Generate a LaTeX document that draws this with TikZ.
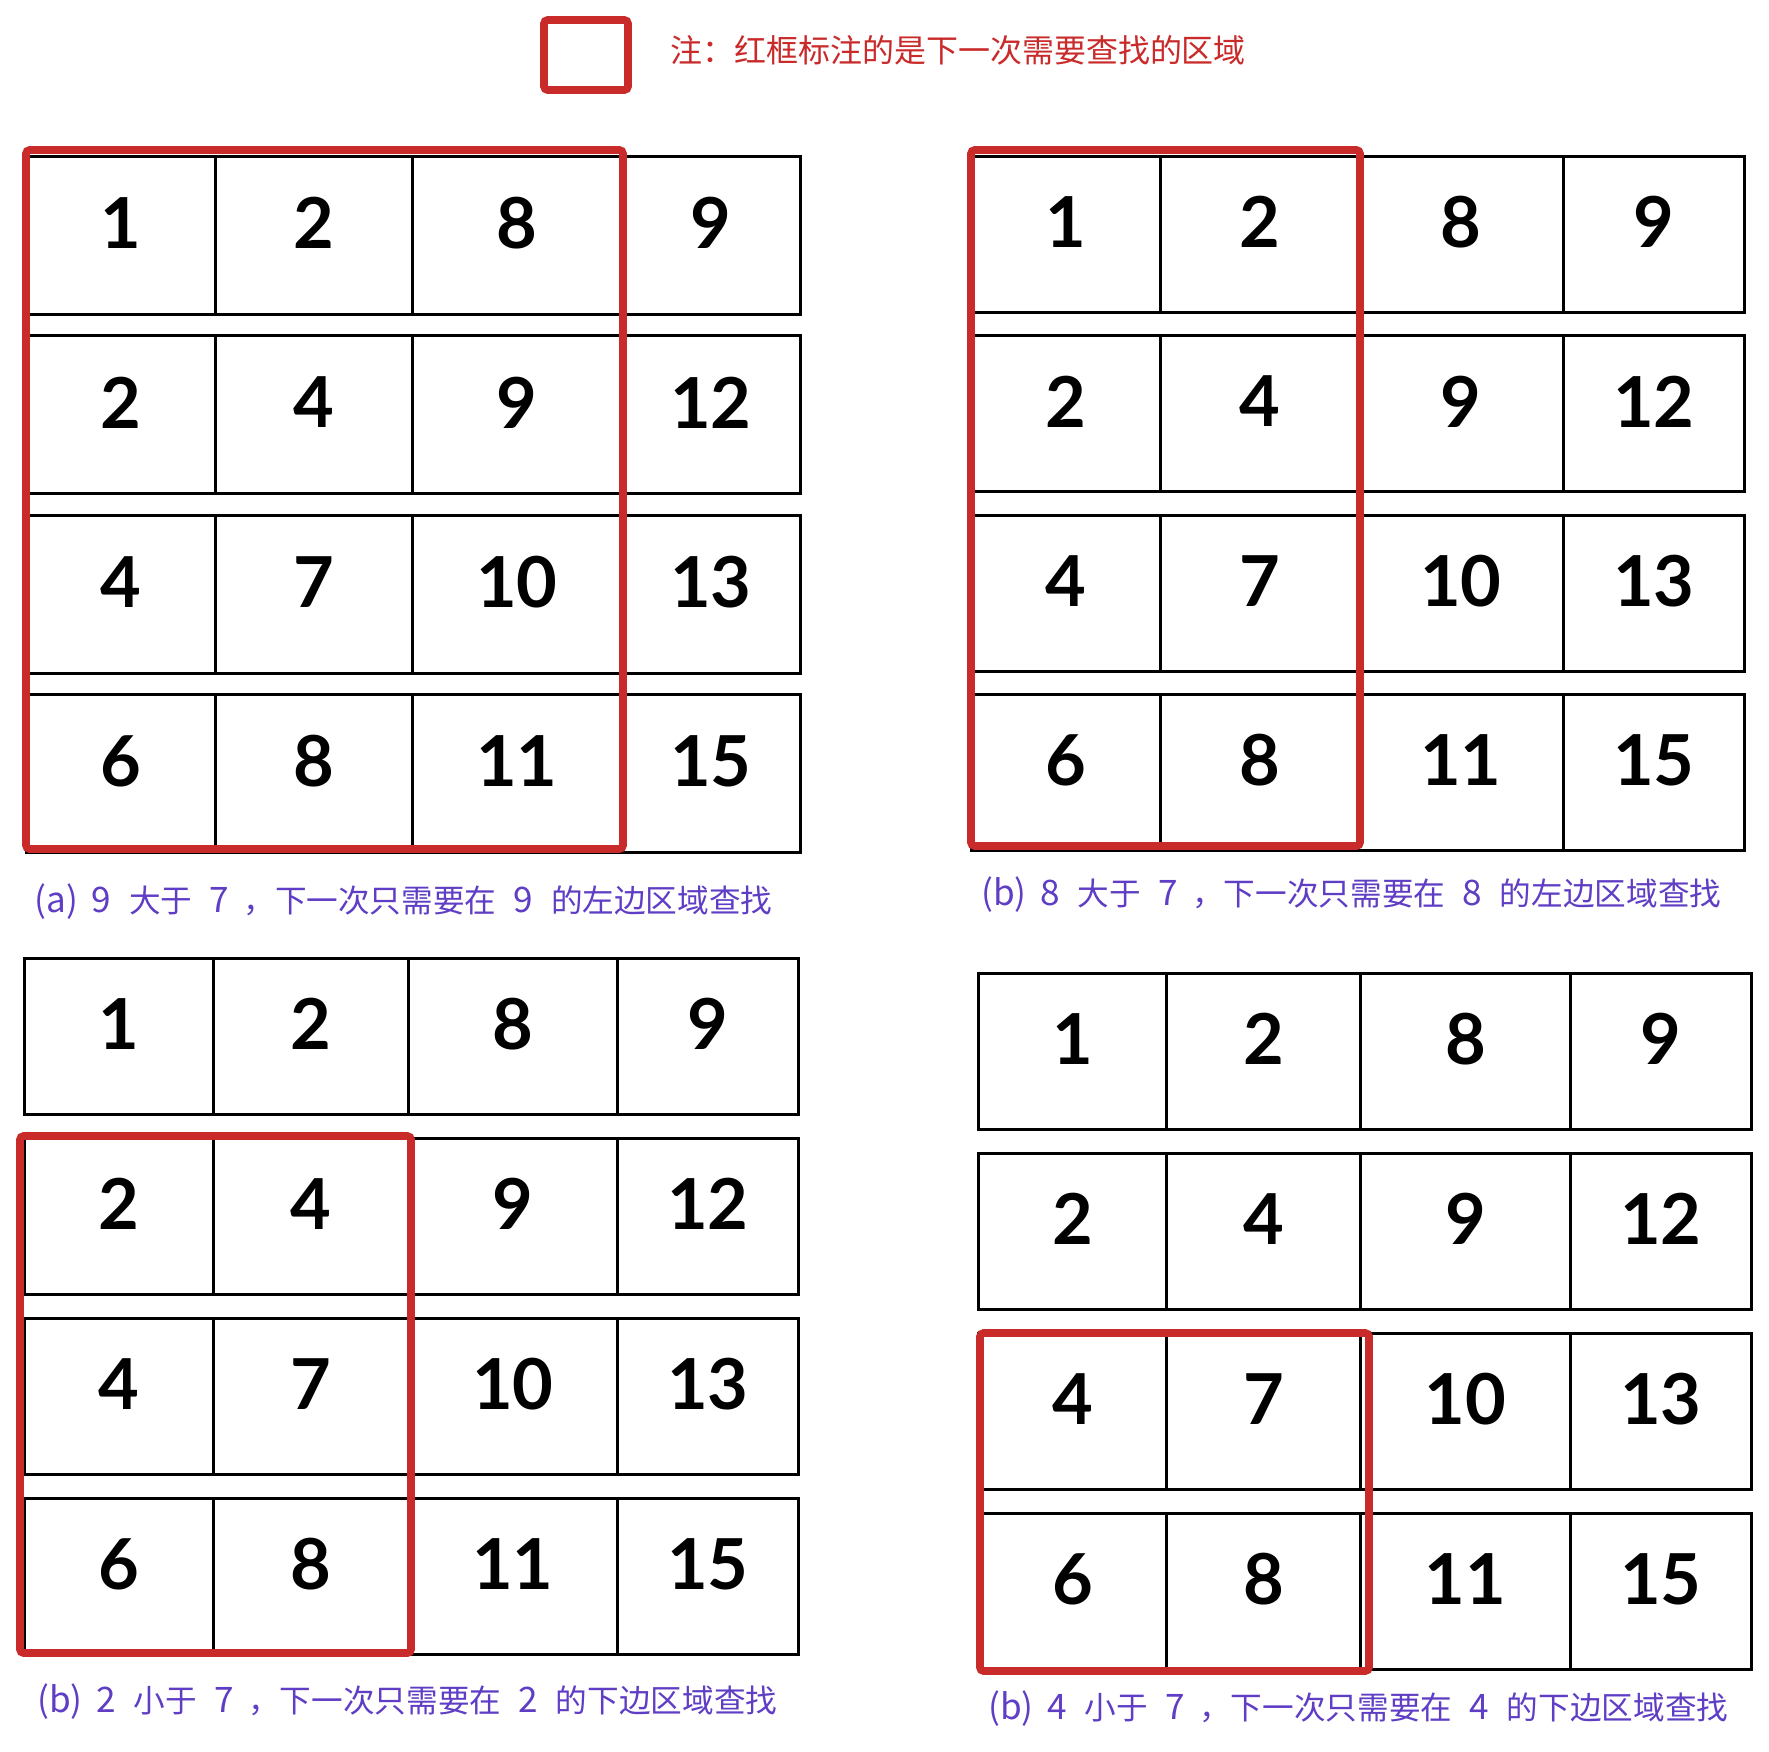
\documentclass[tikz,border=0pt]{standalone}
\usepackage{fontspec}
\newfontfamily\cjk{Noto Sans CJK SC}
\newfontfamily\digitfont{Lato}
\definecolor{markred}{HTML}{C92A2A}
\definecolor{capviolet}{HTML}{5F3DC4}
\tikzset{
  cell/.style={draw=black, line width=1.6pt, anchor=north west, inner sep=0pt, rectangle},
  num/.style={font=\digitfont\bfseries\fontsize{40}{40}\selectfont, inner sep=0pt},
  redbox/.style={draw=markred, line width=4.3pt, rounded corners=2pt},
  caption/.style={font=\cjk\fontsize{18}{18}\selectfont, text=capviolet, anchor=west, inner sep=0pt},
  note/.style={font=\cjk\fontsize{18.2}{18.2}\selectfont, text=markred, anchor=west, inner sep=0pt}
}
% caption text: #1 tag, #2 number, #3 relation, #4 direction
\newcommand\captext[4]{{\fontsize{20}{20}\selectfont #1}\hspace{8pt}{\fontsize{20}{20}\selectfont #2}\hspace{10pt}#3\hspace{10pt}{\fontsize{20}{20}\selectfont 7}\hspace{8pt}，下一次只需要在\hspace{10pt}{\fontsize{20}{20}\selectfont #2}\hspace{10pt}的#4边区域查找}
% #1 name, #2..#6 column x, #7 top y, #8 row height, #9 row pitch
\newcommand\mkpanel[9]{%
  \foreach \r/\va/\vb/\vc/\vd in {1/1/2/8/9,2/2/4/9/12,3/4/7/10/13,4/6/8/11/15}{%
    \pgfmathsetmacro\yt{#7+(\r-1)*#9}%
    \node[cell, minimum width={(#3-#2)*0.02cm}, minimum height={#8*0.02cm}] (#1-\r-1) at (#2,\yt) {};
    \node[cell, minimum width={(#4-#3)*0.02cm}, minimum height={#8*0.02cm}] (#1-\r-2) at (#3,\yt) {};
    \node[cell, minimum width={(#5-#4)*0.02cm}, minimum height={#8*0.02cm}] (#1-\r-3) at (#4,\yt) {};
    \node[cell, minimum width={(#6-#5)*0.02cm}, minimum height={#8*0.02cm}] (#1-\r-4) at (#5,\yt) {};
    \node[num, yshift=7pt] (#1-\r-1-t) at (#1-\r-1.center) {\va};
    \node[num, yshift=7pt] (#1-\r-2-t) at (#1-\r-2.center) {\vb};
    \node[num, yshift=7pt] (#1-\r-3-t) at (#1-\r-3.center) {\vc};
    \node[num, yshift=7pt] (#1-\r-4-t) at (#1-\r-4.center) {\vd};
  }%
}
\begin{document}
\begin{tikzpicture}[x=0.02cm, y=-0.02cm]
\useasboundingbox[fill=white] (0,0) rectangle (1769,1752);

% legend
\draw[redbox] (544,20) rectangle (628,90);
\node[note] (legend) at (670,50) {注：红框标注的是下一次需要查找的区域};

% panels
\mkpanel{a}{25}{214}{411}{620}{799}{155}{158}{179.4}
\mkpanel{b}{970}{1159}{1357}{1562}{1743}{155}{156}{179.4}
\mkpanel{c}{23}{212}{407}{616}{797}{957}{156}{180}
\mkpanel{d}{977}{1165}{1359}{1569}{1750}{972}{156}{180}

% red search regions
\draw[redbox] (26,150) rectangle (623,849);
\draw[redbox] (971,150) rectangle (1360,846);
\draw[redbox] (20,1136) rectangle (411,1653);
\draw[redbox] (980,1333) rectangle (1369,1671);

% captions
\node[caption] (capa) at (34,902) {\captext{(a)}{9}{大于}{左}};
\node[caption] (capb) at (981,895) {\captext{(b)}{8}{大于}{左}};
\node[caption] (capc) at (37,1702) {\captext{(b)}{2}{小于}{下}};
\node[caption] (capd) at (988,1709) {\captext{(b)}{4}{小于}{下}};
\end{tikzpicture}
\end{document}
